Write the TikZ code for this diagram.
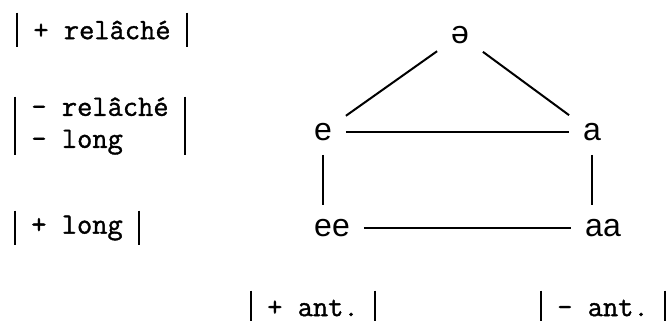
\documentclass[tikz,border=0pt]{standalone}
\usepackage{fontspec}
\newfontfamily\typefont[FakeBold=1.2]{Latin Modern Mono}
\newfontfamily\vowelfont{Liberation Sans}
\usetikzlibrary{positioning}

\begin{document}
\begin{tikzpicture}[
  x=0.5pt, y=-0.5pt,
  vowel/.style={font=\vowelfont\fontsize{16}{19}\selectfont, inner sep=0pt, outer sep=7pt},
  feature/.style={font=\typefont\fontsize{14.8}{16}\selectfont, align=left,
    inner xsep=8pt, inner ysep=0pt, minimum height=17pt},
  featurebar/.style={line width=0.8pt},
  edge/.style={line width=1pt}
]
  \useasboundingbox (0,0) rectangle (669,321);

  % Feature labels
  \node[feature] (relplus) at (102,30) {+ relâché};
  \node[feature, minimum height=29pt] (relminus) at (100,126) {- relâché\\- long};
  \node[feature] (longplus) at (77,228) {+ long};
  \node[feature] (antplus) at (313,308) {+ ant.};
  \node[feature] (antminus) at (603,308) {- ant.};

  \foreach \f in {relplus,relminus,longplus,antplus,antminus}
    \draw[featurebar] (\f.north west) -- (\f.south west)
                      (\f.north east) -- (\f.south east);

  % Vowels
  \node[vowel] (schwa) at (460,35) {ə};
  \node[vowel] (e) at (323,132) {e};
  \node[vowel] (a) at (592,132) {a};
  \node[vowel] (ee) at (332,228) {ee};
  \node[vowel] (aa) at (603,228) {aa};

  % Edges
  \draw[edge] (schwa) -- (e);
  \draw[edge] (schwa) -- (a);
  \draw[edge] (e) -- (a);
  \draw[edge] (ee) -- (aa);
  \draw[edge] (e.south) -- (e.south |- ee.north);
  \draw[edge] (a.south) -- (a.south |- aa.north);

\end{tikzpicture}
\end{document}
